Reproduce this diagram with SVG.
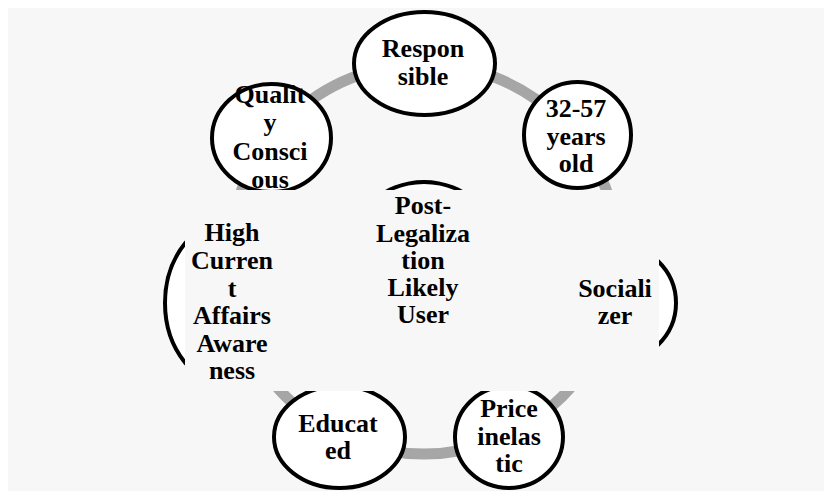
<svg xmlns="http://www.w3.org/2000/svg" width="824" height="491" viewBox="0 0 824 491">
<defs>
<clipPath id="cut">
<path clip-rule="evenodd" d="M0 0H824V491H0Z M185 190V391H659V190Z"/>
</clipPath>
<style>
.node{fill:#ffffff;stroke:#000000;stroke-width:4}
.lbl{font-family:"Liberation Serif","Times New Roman",serif;font-weight:bold;font-size:26px;fill:#000000;text-anchor:middle}
.ring{fill:none;stroke:#a6a6a6;stroke-width:11}
</style>
</defs>
<rect x="8" y="8" width="816" height="483" fill="#f7f7f7"/>
<g id="connectors" clip-path="url(#cut)">
<circle class="ring" cx="424" cy="259" r="195"/>
</g>
<g id="center">
<circle class="node" cx="424" cy="260" r="78" clip-path="url(#cut)"/>
<text class="lbl" x="423"><tspan x="423" y="214">Post-</tspan><tspan x="423" y="242">Legaliza</tspan><tspan x="423" y="269">tion</tspan><tspan x="423" y="296">Likely</tspan><tspan x="423" y="323">User</tspan></text>
</g>
<g id="responsible">
<ellipse class="node" cx="424.5" cy="63.5" rx="70.5" ry="51.5" clip-path="url(#cut)"/>
<text class="lbl"><tspan x="423" y="57">Respon</tspan><tspan x="423" y="85">sible</tspan></text>
</g>
<g id="age">
<ellipse class="node" cx="577.5" cy="135" rx="53.5" ry="53" clip-path="url(#cut)"/>
<text class="lbl"><tspan x="576" y="117">32-57</tspan><tspan x="576" y="145">years</tspan><tspan x="576" y="172">old</tspan></text>
</g>
<g id="socializer">
<ellipse class="node" cx="615" cy="303" rx="61" ry="59" clip-path="url(#cut)"/>
<text class="lbl"><tspan x="615" y="297">Sociali</tspan><tspan x="615" y="324">zer</tspan></text>
</g>
<g id="price">
<ellipse class="node" cx="509" cy="437" rx="54" ry="51" clip-path="url(#cut)"/>
<text class="lbl"><tspan x="509" y="417">Price</tspan><tspan x="509" y="445">inelas</tspan><tspan x="509" y="472">tic</tspan></text>
</g>
<g id="educated">
<ellipse class="node" cx="339.5" cy="437" rx="65.5" ry="51" clip-path="url(#cut)"/>
<text class="lbl"><tspan x="338" y="432">Educat</tspan><tspan x="338" y="459">ed</tspan></text>
</g>
<g id="awareness">
<ellipse class="node" cx="233" cy="303" rx="68" ry="84" clip-path="url(#cut)"/>
<text class="lbl"><tspan x="232" y="241">High</tspan><tspan x="232" y="269">Curren</tspan><tspan x="232" y="297">t</tspan><tspan x="232" y="324">Affairs</tspan><tspan x="232" y="352">Aware</tspan><tspan x="232" y="379">ness</tspan></text>
</g>
<g id="quality">
<ellipse class="node" cx="271.5" cy="138" rx="59.5" ry="54" clip-path="url(#cut)"/>
<text class="lbl" clip-path="url(#cut)"><tspan x="270" y="103">Qualit</tspan><tspan x="270" y="131">y</tspan><tspan x="270" y="160">Consci</tspan><tspan x="270" y="188">ous</tspan></text>
</g>
</svg>
